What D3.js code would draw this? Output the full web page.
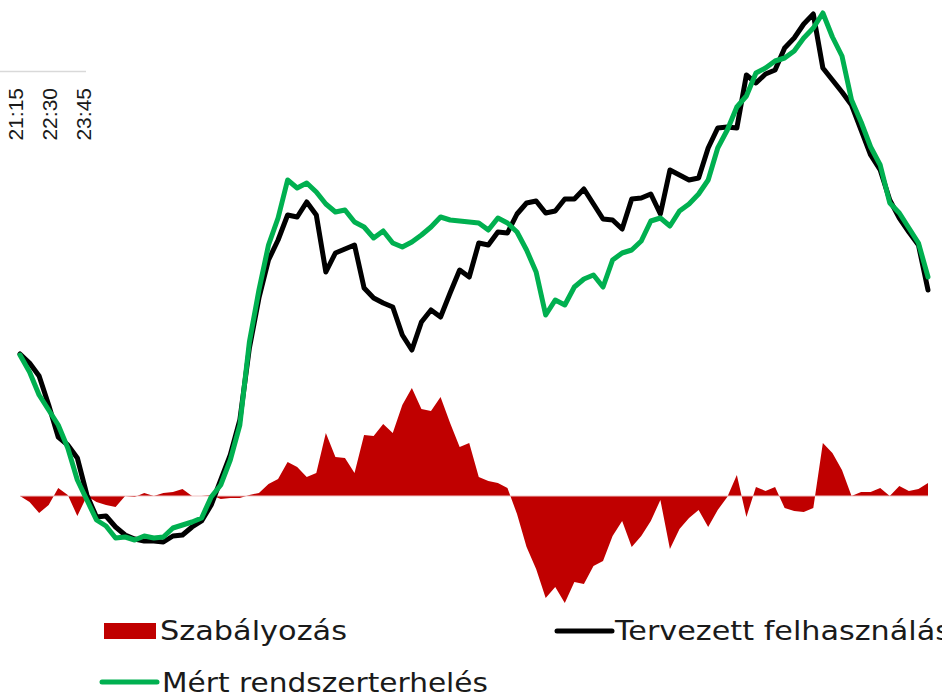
<!DOCTYPE html>
<html>
<head>
<meta charset="utf-8">
<script src="https://cdn.jsdelivr.net/npm/d3@7"></script>
<style>
    html, body { margin: 0; padding: 0; background: #ffffff; overflow: hidden; }
    #container { width: 942px; height: 697px; }
</style>
</head>
<body>
<div id="container"></div>
<script>
"use strict"

// tick labels of the partly visible time axis (top left)
const timeLabels = ["21:15", "22:30", "23:45"];

// 96 quarter-hour values, MW
const planned = [
    4730, 4685, 4620, 4475, 4315, 4275, 4210, 4025, 3915, 3920, 3865, 3825,
    3805, 3795, 3795, 3790, 3820, 3825, 3865, 3895, 3975, 4100, 4225, 4400,
    4760, 5010, 5200, 5300, 5425, 5415, 5490, 5425, 5140, 5235, 5255, 5275,
    5060, 5010, 4985, 4965, 4825, 4750, 4890, 4950, 4915, 5035, 5150, 5115,
    5285, 5275, 5340, 5335, 5430, 5485, 5495, 5435, 5445, 5505, 5505, 5555,
    5480, 5405, 5400, 5355, 5505, 5510, 5530, 5430, 5650, 5625, 5600, 5610,
    5760, 5860, 5865, 5860, 6125, 6085, 6130, 6150, 6260, 6310, 6380, 6430,
    6160, 6100, 6040, 5975, 5850, 5725, 5650, 5500, 5410, 5340, 5275, 5050
];

const measured = [
    4725, 4640, 4525, 4450, 4375, 4260, 4100, 4000, 3900, 3870, 3810, 3815,
    3800, 3820, 3810, 3815, 3860, 3875, 3890, 3910, 4015, 4075, 4200, 4375,
    4790, 5050, 5275, 5410, 5600, 5560, 5585, 5540, 5480, 5440, 5450, 5390,
    5365, 5310, 5345, 5285, 5265, 5290, 5325, 5365, 5415, 5400, 5395, 5390,
    5385, 5350, 5410, 5385, 5340, 5250, 5140, 4925, 5000, 4975, 5065, 5105,
    5125, 5065, 5200, 5235, 5250, 5295, 5395, 5410, 5370, 5445, 5480, 5530,
    5600, 5760, 5850, 5965, 6020, 6135, 6160, 6195, 6210, 6245, 6310, 6360,
    6435, 6315, 6220, 6000, 5890, 5765, 5675, 5485, 5435, 5360, 5285, 5115
];

const regulation = [
       0,  -30,  -85,  -45,   40,    5, -100,    0,  -30,  -45,  -55,    0,
      -5,   15,    0,   15,   20,   35,    0,    0,    5,  -15,  -10,  -10,
       5,   15,   60,   85,  170,  145,   95,  115,  315,  195,  190,  115,
     305,  300,  360,  315,  455,  540,  435,  425,  495,  365,  245,  265,
      95,   75,   65,   40,  -90, -255, -365, -510, -455, -535, -430, -440,
    -350, -325, -200, -125, -255, -200, -125,  -20, -265, -165, -110,  -70,
    -155,  -70,   -5,  105, -105,   45,   25,   45,  -60,  -75,  -80,  -60,
     265,  215,  130,    0,   20,   20,   40,    0,   50,   25,   35,   65
];

const seriesNames = ["Szabályozás", "Tervezett felhasználás", "Mért rendszerterhelés"];

const width = 942;
const height = 697;
const lineWidth = 5;
const legendFont = "'Century Gothic', 'DejaVu Sans', sans-serif";

let container;
let svg;
let x;
let yLoad;
let yReg;


function Main()
{
    container = document.getElementById("container");
    CreateSVG();
    CreateScales();
    DrawTimeAxis();
    DrawRegulation();
    DrawLines();
    CreateLegend();
    container.append(svg.node());
};


function CreateSVG()
{
    svg = d3.create("svg")
        .attr("width", width)
        .attr("height", height)
        .style("display", "block");
};


function CreateScales()
{
    x = d3.scaleLinear()
        .domain([0, planned.length - 1])
        .range([20, 928]);

    yLoad = d3.scaleLinear()
        .domain([3500, 6500])
        .range([600, 0]);

    yReg = d3.scaleLinear()
        .domain([-500, 500])
        .range([596, 396]);
};


function DrawTimeAxis()
{
    const timeScale = d3.scalePoint()
        .domain(timeLabels)
        .range([15.5, 83.5]);

    const g = svg.append("g");

    g.append("line")
        .attr("x1", 0)
        .attr("x2", 86)
        .attr("y1", 71.5)
        .attr("y2", 71.5)
        .attr("stroke", "#d9d9d9")
        .attr("stroke-width", 1.5);

    g.selectAll("text")
        .data(timeLabels)
        .enter()
        .append("text")
            .attr("transform", d => `translate(${timeScale(d)},88) rotate(-90)`)
            .attr("text-anchor", "end")
            .attr("dy", "0.35em")
            .attr("font-family", "'Liberation Sans', Arial, sans-serif")
            .attr("font-size", 21)
            .attr("fill", "#1a1a1a")
            .text(d => d);
};


function DrawRegulation()
{
    const area = d3.area()
        .x((_, i) => x(i))
        .y0(yReg(0))
        .y1(d => yReg(d));

    svg.append("path")
        .datum(regulation)
        .attr("fill", "#c00000")
        .attr("d", area);

    // faint baseline of the area
    svg.append("line")
        .attr("x1", x(0))
        .attr("x2", x(regulation.length - 1))
        .attr("y1", yReg(0))
        .attr("y2", yReg(0))
        .attr("stroke", "#f0c4c4")
        .attr("stroke-width", 1);
};


function DrawLines()
{
    const line = d3.line()
        .x((_, i) => x(i))
        .y(d => yLoad(d));

    const series = [
        {values: planned, color: "#000000"},
        {values: measured, color: "#00b050"}
    ];

    svg.append("g")
        .selectAll("path")
        .data(series)
        .enter()
        .append("path")
            .attr("fill", "none")
            .attr("stroke", d => d.color)
            .attr("stroke-width", lineWidth)
            .attr("stroke-linejoin", "round")
            .attr("stroke-linecap", "round")
            .attr("d", d => line(d.values));
};


function CreateLegend()
{
    const items = [
        {name: seriesNames[0], kind: "rect", color: "#c00000", sx: 104, sy: 631, tx: 160, ty: 640, len: 187},
        {name: seriesNames[1], kind: "line", color: "#000000", sx: 557, sy: 631, tx: 615, ty: 640, len: 336},
        {name: seriesNames[2], kind: "line", color: "#00b050", sx: 102, sy: 682, tx: 162, ty: 692, len: 326}
    ];

    const legend = svg.append("g");

    legend.selectAll("rect")
        .data(items.filter(d => d.kind == "rect"))
        .enter()
        .append("rect")
            .attr("x", d => d.sx)
            .attr("y", d => d.sy - 8)
            .attr("width", 52)
            .attr("height", 16)
            .attr("fill", d => d.color);

    legend.selectAll("line")
        .data(items.filter(d => d.kind == "line"))
        .enter()
        .append("line")
            .attr("x1", d => d.sx)
            .attr("x2", d => d.sx + 55)
            .attr("y1", d => d.sy)
            .attr("y2", d => d.sy)
            .attr("stroke", d => d.color)
            .attr("stroke-width", lineWidth)
            .attr("stroke-linecap", "round");

    legend.selectAll("text")
        .data(items)
        .enter()
        .append("text")
            .attr("x", d => d.tx)
            .attr("y", d => d.ty)
            .attr("font-family", legendFont)
            .attr("font-size", 27)
            .attr("fill", "#1a1a1a")
            .attr("textLength", d => d.len)
            .attr("lengthAdjust", "spacingAndGlyphs")
            .text(d => d.name);
};


Main();
</script>
</body>
</html>
